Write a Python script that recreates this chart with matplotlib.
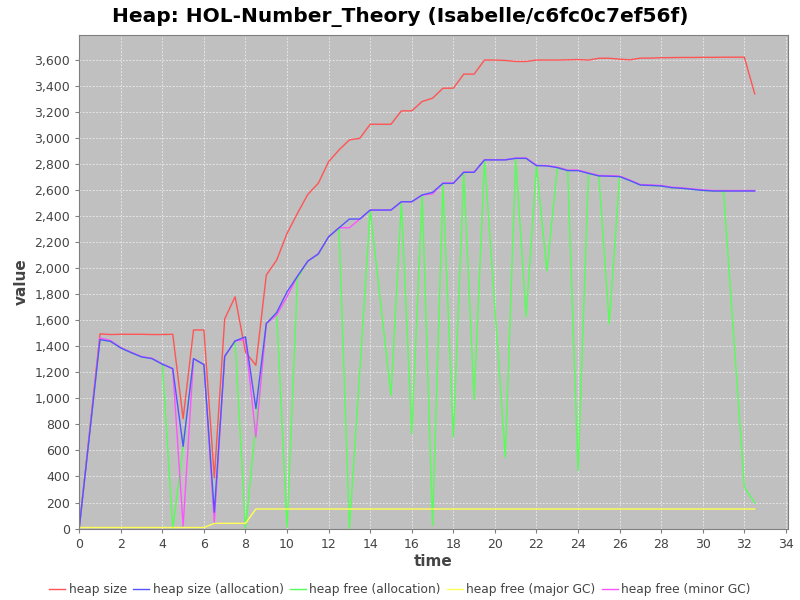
import matplotlib
matplotlib.use("Agg")
import matplotlib.pyplot as plt
from matplotlib.ticker import FuncFormatter, MultipleLocator

times = [0, 1.0, 1.5, 2.0, 2.5, 3.0, 3.5, 4.0, 4.5, 5.0, 5.5, 6.0, 6.5, 7.0, 7.5, 8.0,
         8.5, 9.0, 9.5, 10.0, 10.5, 11.0, 11.5, 12.0, 12.5, 13.0, 13.5, 14.0, 14.5,
         15.0, 15.5, 16.0, 16.5, 17.0, 17.5, 18.0, 18.5, 19.0, 19.5, 20.0, 20.5,
         21.0, 21.5, 22.0, 22.5, 23.0, 23.5, 24.0, 24.5, 25.0, 25.5, 26.0, 26.5,
         27.0, 27.5, 28.0, 28.5, 29.0, 29.5, 30.0, 30.5, 31.0, 31.5, 32.0, 32.5]

heap_size = [0, 1495, 1490, 1492, 1492, 1492, 1490, 1490, 1492, 844, 1525, 1525, 390,
             1610, 1780, 1356, 1254, 1946, 2062, 2267, 2421, 2567, 2651, 2818, 2908,
             2985, 2997, 3105, 3105, 3105, 3208, 3208, 3280, 3305, 3382, 3382, 3490,
             3490, 3598, 3598, 3595, 3587, 3587, 3598, 3598, 3598, 3600, 3602, 3598,
             3612, 3612, 3605, 3600, 3613, 3613, 3616, 3617, 3618, 3618, 3619, 3619,
             3620, 3620, 3620, 3338]

heap_size_alloc = [0, 1451, 1438, 1387, 1351, 1318, 1305, 1262, 1228, 631, 1305, 1259,
                   125, 1323, 1441, 1472, 921, 1574, 1659, 1818, 1938, 2054, 2108,
                   2241, 2310, 2377, 2377, 2446, 2446, 2446, 2510, 2510, 2562, 2582,
                   2651, 2651, 2736, 2736, 2831, 2831, 2831, 2843, 2843, 2787, 2785,
                   2772, 2749, 2749, 2728, 2708, 2706, 2703, 2672, 2638, 2635, 2631,
                   2618, 2613, 2605, 2597, 2592, 2592, 2592, 2592, 2592]

heap_free_alloc = [0, 1451, 1438, 1387, 1351, 1318, 1305, 1262, 0, 631, 1305, 1259,
                   125, 1323, 1441, 0, 800, 1574, 1659, 10, 1920, 2054, 2108, 2241,
                   2305, 0, 1210, 2446, 1735, 1023, 2502, 728, 2562, 23, 2638, 702,
                   2733, 990, 2831, 1690, 548, 2843, 1626, 2782, 1980, 2767, 2752,
                   446, 2728, 2708, 1574, 2703, 2672, 2638, 2635, 2631, 2618, 2613,
                   2605, 2597, 2592, 2587, 1450, 318, 198]

heap_free_major = [8, 8, 8, 8, 8, 8, 8, 8, 8, 8, 8, 8, 40, 40, 40, 40, 150, 150, 150,
                   150, 150, 150, 150, 150, 150, 150, 150, 150, 150, 150, 150, 150,
                   150, 150, 150, 150, 150, 150, 150, 150, 150, 150, 150, 150, 150,
                   150, 150, 150, 150, 150, 150, 150, 150, 150, 150, 150, 150, 150,
                   150, 150, 150, 150, 150, 150, 150]

heap_free_minor = [0, 1464, 1445, 1390, 1354, 1321, 1308, 1265, 1228, 20, 1305, 1259,
                   48, 1323, 1441, 1451, 702, 1574, 1640, 1780, 1938, 2054, 2112,
                   2241, 2310, 2310, 2377, 2446, 2446, 2446, 2510, 2510, 2562, 2570,
                   2654, 2654, 2738, 2738, 2833, 2833, 2833, 2846, 2846, 2790, 2788,
                   2776, 2753, 2753, 2732, 2712, 2710, 2707, 2676, 2642, 2639, 2635,
                   2622, 2617, 2609, 2601, 2596, 2596, 2596, 2596, 2596]

series = [
    ("heap size", heap_size, "#FF5555"),
    ("heap size (allocation)", heap_size_alloc, "#5555FF"),
    ("heap free (allocation)", heap_free_alloc, "#55FF55"),
    ("heap free (major GC)", heap_free_major, "#FFFF55"),
    ("heap free (minor GC)", heap_free_minor, "#FF55FF"),
]

fig = plt.figure(figsize=(8, 6), dpi=100)
ax = fig.add_axes([0.099, 0.118, 0.886, 0.824])
ax.set_facecolor("#C0C0C0")

order = [0, 2, 3, 4, 1]
lines = {}
for i in order:
    name, vals, col = series[i]
    ln, = ax.plot(times, vals, color=col, lw=1.0, label=name)
    lines[i] = ln

ax.set_xlim(0, 34.1)
ax.set_ylim(-5, 3792)
ax.xaxis.set_major_locator(MultipleLocator(2))
ax.yaxis.set_major_locator(MultipleLocator(200))
ax.yaxis.set_major_formatter(FuncFormatter(lambda v, p: f"{int(round(v)):,}"))
ax.grid(True, color="#EEEEEE", linestyle=(0, (2, 2)), linewidth=0.6)
ax.set_axisbelow(True)

for s in ["top", "right", "left", "bottom"]:
    ax.spines[s].set_color("#808080")
    ax.spines[s].set_linewidth(0.8)

ax.tick_params(axis="both", colors="#808080", labelcolor="#444444",
               labelsize=9, length=3, width=0.8)

ax.set_xlabel("time", fontsize=11, fontweight="bold", color="#444444", labelpad=2)
ax.set_ylabel("value", fontsize=11, fontweight="bold", color="#444444", labelpad=4)

fig.suptitle("Heap: HOL-Number_Theory (Isabelle/c6fc0c7ef56f)", fontsize=14.5,
             fontweight="bold", y=0.988, color="#000000")

handles = [lines[i] for i in range(5)]
labels = [series[i][0] for i in range(5)]
fig.legend(handles, labels, loc="lower center", ncol=5, frameon=False,
           fontsize=8.8, handlelength=1.3, handletextpad=0.3, columnspacing=0.5,
           bbox_to_anchor=(0.5, -0.012), labelcolor="#444444")

fig.savefig("out.png", dpi=100, facecolor="white")
